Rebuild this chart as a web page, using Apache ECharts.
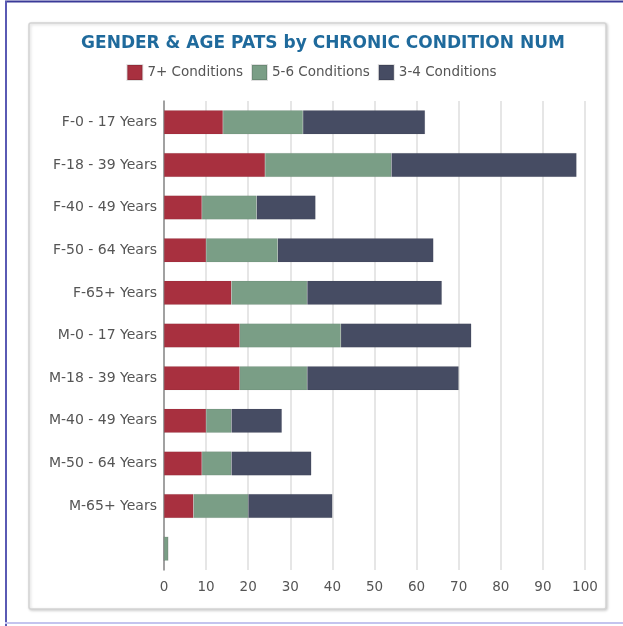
<!DOCTYPE html>
<html><head><meta charset="utf-8">
<script src="https://cdn.jsdelivr.net/npm/echarts@6/dist/echarts.min.js"></script>
<style>html,body{margin:0;padding:0;background:#fff}#c{width:623px;height:626px}</style>
</head><body><div id="c"></div>
<script>
const categories = ["F-0 - 17 Years","F-18 - 39 Years","F-40 - 49 Years","F-50 - 64 Years","F-65+ Years",
  "M-0 - 17 Years","M-18 - 39 Years","M-40 - 49 Years","M-50 - 64 Years","M-65+ Years",""];
const seriesNames = ["7+ Conditions","5-6 Conditions","3-4 Conditions"];
const sevenPlus = [14,24,9,10,16,18,18,10,9,7,0];
const fiveSix   = [19,30,13,17,18,24,16,6,7,13,1];
const threeFour = [29,44,14,37,32,31,36,12,19,20,0];
const xMin = 0, xMax = 100, xStep = 10;

const colors = ["#a8303f","#7a9e86","#464c63"];
const font = "DejaVu Sans";
const chart = echarts.init(document.getElementById('c'), null, {renderer:'canvas'});
const mk = (name, data, i) => ({
  name, type:'bar', stack:'total', data, barWidth:24,
  itemStyle:{color:colors[i], borderColor:'rgba(0,0,0,0.12)', borderWidth:0.5},
  emphasis:{disabled:true}
});
chart.setOption({
  animation:false,
  backgroundColor:'#fff',
  graphic:[
    {type:'rect', shape:{x:29,y:23,width:577,height:586, r:2}, style:{fill:'#fff', stroke:'#d4d4d4', lineWidth:1.5, shadowBlur:3, shadowColor:'rgba(0,0,0,0.18)', shadowOffsetX:1, shadowOffsetY:1}, z:-10},
    {type:'line', shape:{x1:5,y1:1.5,x2:623,y2:1.5}, style:{stroke:'#3a3a98', lineWidth:2}, z:-5},
    {type:'line', shape:{x1:6,y1:1,x2:6,y2:626}, style:{stroke:'#5a5ab4', lineWidth:2}, z:-5},
    {type:'line', shape:{x1:5,y1:623,x2:623,y2:623}, style:{stroke:'#c4c4ee', lineWidth:2}, z:-5}
  ],
  title:{text:'GENDER & AGE PATS by CHRONIC CONDITION NUM', left:318, textAlign:'center', top:30,
    textStyle:{fontFamily:font, fontSize:17, fontWeight:'bold', color:'#1f6a9c'}},
  legend:{data:seriesNames, top:59, left:'center', itemWidth:15, itemHeight:15, itemGap:8,
    icon:'rect', textStyle:{fontFamily:font, fontSize:13.5, color:'#555'}},
  grid:{left:164, right:38, top:101, bottom:56, containLabel:false},
  xAxis:{type:'value', min:xMin, max:xMax, interval:xStep,
    axisLine:{show:false}, axisTick:{show:false},
    axisLabel:{fontFamily:font, fontSize:13.5, color:'#555', margin:10},
    splitLine:{lineStyle:{color:'#dedede', width:1.5}}},
  yAxis:{type:'category', data:categories, inverse:true,
    axisLine:{show:true, lineStyle:{color:'#8a8a8a', width:1.5}}, axisTick:{show:false},
    axisLabel:{fontFamily:font, fontSize:14, color:'#555', margin:7}},
  series:[mk(seriesNames[0], sevenPlus, 0), mk(seriesNames[1], fiveSix, 1), mk(seriesNames[2], threeFour, 2)]
});
</script></body></html>
